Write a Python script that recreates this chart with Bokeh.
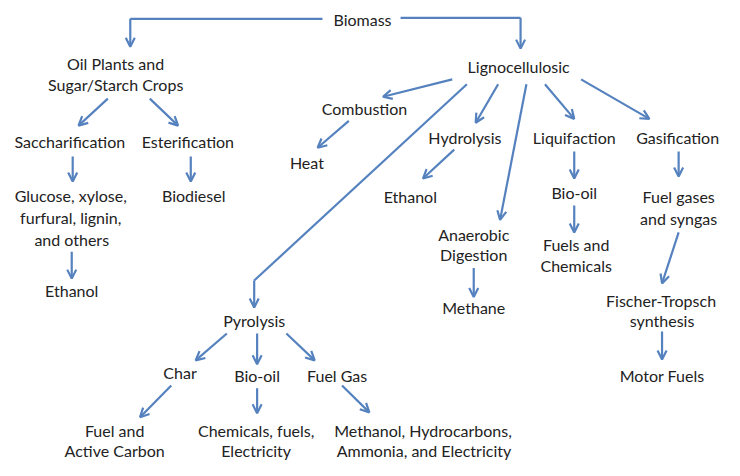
from bokeh.plotting import figure
from bokeh.models import Range1d, Arrow, OpenHead, ColumnDataSource
from bokeh.core.properties import value
from bokeh.embed import file_html
from bokeh.resources import INLINE

# Node labels (one entry per text line) and their centre positions
label_text = [
    "Biomass",
    "Oil Plants and", "Sugar/Starch Crops",
    "Lignocellulosic",
    "Saccharification", "Esterification",
    "Glucose, xylose,", "furfural, lignin,", "and others",
    "Biodiesel", "Ethanol",
    "Combustion", "Heat",
    "Hydrolysis", "Ethanol",
    "Liquifaction", "Bio-oil", "Fuels and", "Chemicals",
    "Gasification", "Fuel gases", "and syngas",
    "Fischer-Tropsch", "synthesis", "Motor Fuels",
    "Anaerobic", "Digestion", "Methane",
    "Pyrolysis", "Char", "Bio-oil", "Fuel Gas",
    "Fuel and", "Active Carbon",
    "Chemicals, fuels,", "Electricity",
    "Methanol, Hydrocarbons,", "Ammonia, and Electricity",
]
label_x = [
    371,
    118, 118,
    531,
    71, 192,
    72, 72, 73,
    198, 73,
    373, 314,
    476, 420,
    588, 588, 590, 590,
    694, 695, 695,
    677, 678, 678,
    485, 485, 485,
    260, 184, 263, 345,
    117, 117,
    262, 262,
    433, 434,
]
label_y = [
    20,
    65, 87,
    69,
    146, 146,
    203, 226, 248,
    203, 301,
    112, 168,
    142, 204,
    142, 199, 254, 275,
    142, 204, 227,
    312, 333, 390,
    243, 264, 319,
    333, 387, 390, 390,
    447, 468,
    447, 468,
    447, 468,
]

# Straight arrows: start and end points
arrow_x0 = [110, 153, 74, 195, 73,
            463, 357, 510, 465, 539, 485,
            558, 588, 588, 595, 695, 695, 678,
            232, 263, 293, 175, 263, 350]
arrow_y0 = [102, 102, 162, 162, 261,
            82, 125, 87, 155, 87, 278,
            87, 157, 213, 82, 157, 241, 344,
            346, 346, 346, 400, 403, 400]
arrow_x1 = [80, 182, 74, 195, 73,
            392, 325, 487, 433, 512, 485,
            588, 588, 588, 665, 695, 678, 678,
            200, 263, 322, 143, 263, 378]
arrow_y1 = [130, 130, 188, 188, 289,
            100, 153, 127, 185, 228, 308,
            123, 185, 241, 123, 183, 294, 373,
            374, 378, 374, 433, 429, 428]

# Elbow connectors (polyline, last segment carries the arrowhead)
elbow_xs = [[330, 133, 133], [410, 533, 533], [478, 260, 260]]
elbow_ys = [[19, 19, 48], [18, 18, 50], [87, 291, 319]]

COLOR = "#5582BE"
FONT = "Lato"

p = figure(width=724, height=460, output_backend="svg", toolbar_location=None,
           x_range=Range1d(0, 742), y_range=Range1d(478, 0), min_border=0)
p.axis.visible = False
p.grid.visible = False
p.outline_line_color = None
p.background_fill_color = "white"
p.border_fill_color = "white"

# Elbow bodies
p.multi_line(xs=[e[:-1] for e in elbow_xs], ys=[e[:-1] for e in elbow_ys],
             line_color=COLOR, line_width=2.2)
# Elbow last segments as arrows
for xs, ys in zip(elbow_xs, elbow_ys):
    p.add_layout(Arrow(end=OpenHead(size=9, line_color=COLOR, line_width=2.2),
                       x_start=xs[-2], y_start=ys[-2], x_end=xs[-1], y_end=ys[-1],
                       line_color=COLOR, line_width=2.2))

asrc = ColumnDataSource(dict(x0=arrow_x0, y0=arrow_y0, x1=arrow_x1, y1=arrow_y1))
p.add_layout(Arrow(end=OpenHead(size=9, line_color=COLOR, line_width=2.2),
                   x_start="x0", y_start="y0", x_end="x1", y_end="y1",
                   source=asrc, line_color=COLOR, line_width=2.2))

lsrc = ColumnDataSource(dict(x=label_x, y=label_y, t=label_text))
p.text(x="x", y="y", text="t", source=lsrc, text_align="center",
       text_baseline="middle", text_font=value(FONT), text_font_size="16px",
       text_color="#222222")

open("out.html", "w").write(file_html(p, INLINE))
